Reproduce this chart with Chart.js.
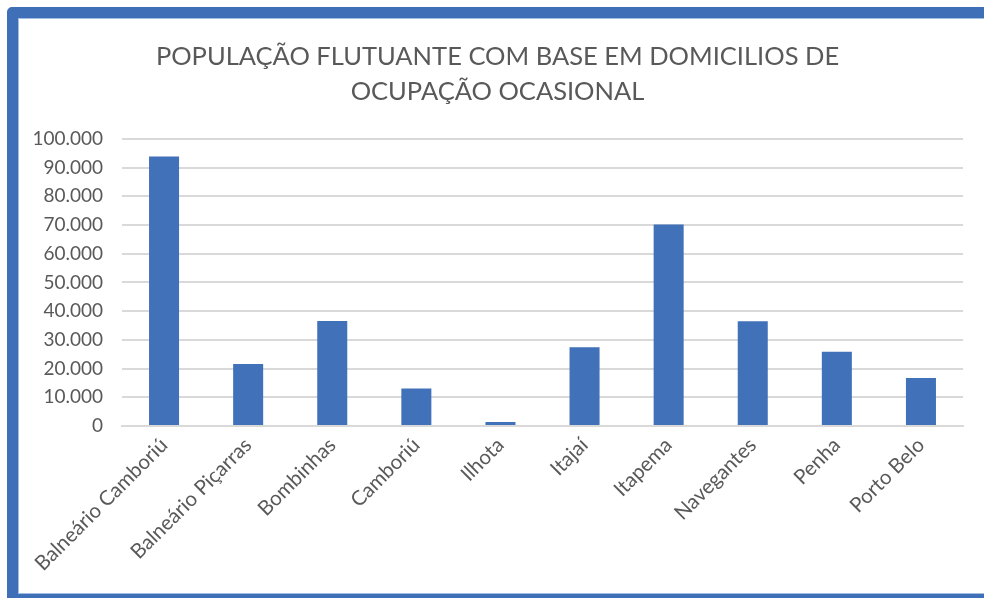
<!DOCTYPE html>
<html>
<head>
<meta charset="utf-8">
<script src="https://cdn.jsdelivr.net/npm/chart.js@4"></script>
<style>
  html, body { margin: 0; padding: 0; background: #fff; overflow: hidden; }
  body { width: 984px; height: 598px; position: relative; }
  .frame {
    position: absolute; left: 7px; top: 7px;
    width: 1000px; height: 576px;
    border: 11px solid #3f6fb6;
    border-radius: 5px;
    box-shadow: inset 1px 1px 0 #a4bde3, inset -1px -1px 0 #a4bde3;
  }
  .wrap { position: absolute; left: 12px; top: 18px; width: 972px; height: 576px; }
</style>
</head>
<body>
<div class="frame"></div>
<div class="wrap"><canvas id="popChart"></canvas></div>
<script>
// data
const cidades = ["Balneário Camboriú", "Balneário Piçarras", "Bombinhas", "Camboriú", "Ilhota",
  "Itajaí", "Itapema", "Navegantes", "Penha", "Porto Belo"];
const populacao = [93900, 21600, 36600, 13100, 1400, 27400, 70200, 36500, 25900, 16700];
const titulo = ["POPULAÇÃO FLUTUANTE COM BASE EM DOMICILIOS DE", "OCUPAÇÃO OCASIONAL"];

const cinza = "#595959";
const fonte = "Lato, 'Open Sans', sans-serif";

document.addEventListener("DOMContentLoaded", function () {
  const ctx = document.getElementById("popChart").getContext("2d");

  new Chart(ctx, {
    type: "bar",
    data: {
      labels: cidades,
      datasets: [
        {
          label: "População flutuante",
          data: populacao,
          backgroundColor: "#4171b9",
          categoryPercentage: 1,
          barPercentage: 0.357,
        },
      ],
    },
    options: {
      responsive: true,
      maintainAspectRatio: false,
      animation: false,
      layout: { padding: { left: 20, right: 21, top: 0, bottom: 0 } },
      plugins: {
        legend: { display: false },
        tooltip: { enabled: false },
        title: {
          display: true,
          text: titulo,
          color: cinza,
          font: { family: fonte, size: 25.5, weight: "normal", lineHeight: 1.37 },
          padding: { top: 21, bottom: 30 },
        },
      },
      scales: {
        x: {
          grid: { display: false, drawTicks: false },
          border: { display: true, color: "#d9d9d9", width: 2 },
          ticks: {
            color: cinza,
            font: { family: fonte, size: 20.5 },
            minRotation: 45,
            maxRotation: 45,
            autoSkip: false,
            padding: 7,
          },
          afterFit: function (scale) { scale.height = 168; },
        },
        y: {
          min: 0,
          max: 100000,
          grid: { color: "#d9d9d9", lineWidth: 2, drawTicks: false },
          border: { display: false },
          ticks: {
            stepSize: 10000,
            color: cinza,
            padding: 19,
            font: { family: fonte, size: 19 },
            callback: function (v) { return v.toLocaleString("pt-BR"); },
          },
          afterFit: function (scale) { scale.width = 90; },
        },
      },
    },
  });
});
</script>
</body>
</html>
